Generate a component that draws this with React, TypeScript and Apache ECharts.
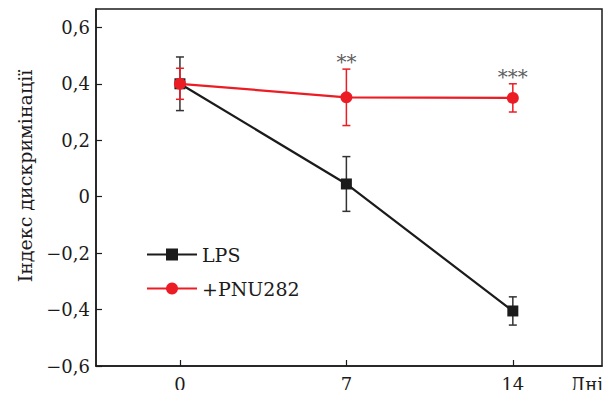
import React, { useEffect, useRef } from "react";
import * as echarts from "echarts";

const days = [0, 7, 14];
const lpsMean = [0.4, 0.045, -0.405];
const lpsErr = [0.095, 0.097, 0.05];
const pnuMean = [0.4, 0.352, 0.35];
const pnuErr = [0.055, 0.1, 0.05];
const pnuStars = ["", "**", "***"];
const yTicks = [-0.6, -0.4, -0.2, 0, 0.2, 0.4, 0.6];
const xTicks = [0, 7, 14];

const FONT = "DejaVu Serif";
const BLACK = "#1b1b1b";
const RED = "#ec1c24";

function errData(mean: number[], err: number[]) {
  return days.map((d, i) => [d, mean[i] - err[i], mean[i] + err[i]]);
}

function errSeries(mean: number[], err: number[], color: string, z: number) {
  return {
    type: "custom",
    z,
    silent: true,
    data: errData(mean, err),
    renderItem: (params: any, api: any) => {
      const lo = api.coord([api.value(0), api.value(1)]);
      const hi = api.coord([api.value(0), api.value(2)]);
      const w = 4;
      const style = { stroke: color, lineWidth: 1.5 };
      return {
        type: "group",
        children: [
          { type: "line", shape: { x1: lo[0], y1: lo[1], x2: hi[0], y2: hi[1] }, style },
          { type: "line", shape: { x1: lo[0] - w, y1: lo[1], x2: lo[0] + w, y2: lo[1] }, style },
          { type: "line", shape: { x1: hi[0] - w, y1: hi[1], x2: hi[0] + w, y2: hi[1] }, style },
        ],
      };
    },
  };
}

export default function App() {
  const ref = useRef<HTMLDivElement>(null);
  useEffect(() => {
    if (!ref.current) return;
    const chart = echarts.init(ref.current, null, { renderer: "svg" });
    const fmt = (v: number) => String(Math.round(v * 10) / 10).replace(".", ",").replace("-", "\u2212");
    chart.setOption({
      animation: false,
      textStyle: { fontFamily: FONT },
      grid: {
        left: 96,
        top: 9,
        right: 10,
        bottom: 32,
        show: true,
        borderColor: BLACK,
        borderWidth: 1.5,
        backgroundColor: "transparent",
      },
      legend: {
        left: 141,
        top: 240,
        orient: "vertical",
        itemWidth: 50,
        itemHeight: 15,
        itemGap: 15,
        textStyle: { fontFamily: FONT, fontSize: 19, color: BLACK, padding: [0, 0, 0, 0] },
        data: ["LPS", "+PNU282"],
      },
      xAxis: {
        type: "value",
        min: -3.53,
        max: 17.75,
        splitLine: { show: false },
        axisLine: { onZero: false, lineStyle: { color: BLACK, width: 1.5 } },
        axisTick: { inside: true, length: 6, lineStyle: { color: BLACK, width: 1.2 }, customValues: xTicks },
        axisLabel: { customValues: xTicks, fontFamily: FONT, fontSize: 18, color: BLACK, margin: 9 },
      },
      yAxis: {
        type: "value",
        min: -0.6,
        max: 0.665,
        splitLine: { show: false },
        axisLine: { onZero: false, lineStyle: { color: BLACK, width: 1.5 } },
        axisTick: { inside: true, length: 6, lineStyle: { color: BLACK, width: 1.2 }, customValues: yTicks },
        axisLabel: {
          customValues: yTicks,
          fontFamily: FONT,
          fontSize: 18,
          color: BLACK,
          margin: 6,
          formatter: fmt,
        },
      },
      graphic: [
        {
          type: "text",
          x: 25,
          y: 176,
          rotation: Math.PI / 2,
          style: {
            text: "Індекс дискримінації",
            font: `19px "${FONT}"`,
            fill: BLACK,
            align: "center",
            verticalAlign: "middle",
          },
        },
        {
          type: "text",
          x: 603,
          y: 384,
          style: {
            text: "Дні",
            font: `18px "${FONT}"`,
            fill: BLACK,
            align: "right",
            verticalAlign: "middle",
          },
        },
      ],
      series: [
        errSeries(lpsMean, lpsErr, "#333333", 2),
        {
          name: "LPS",
          type: "line",
          z: 3,
          data: days.map((d, i) => [d, lpsMean[i]]),
          symbol: "rect",
          symbolSize: 11,
          lineStyle: { color: BLACK, width: 2.2 },
          itemStyle: { color: BLACK },
        },
        errSeries(pnuMean, pnuErr, RED, 4),
        {
          name: "+PNU282",
          type: "line",
          z: 5,
          data: days.map((d, i) => [d, pnuMean[i]]),
          symbol: "circle",
          symbolSize: 12,
          lineStyle: { color: RED, width: 2.2 },
          itemStyle: { color: RED },
        },
        {
          type: "scatter",
          z: 6,
          silent: true,
          symbolSize: 0,
          data: days.map((d, i) => [d, pnuMean[i] + pnuErr[i]]),
          label: {
            show: true,
            position: "top",
            distance: 0,
            offset: [0, 3],
            fontFamily: FONT,
            fontSize: 20,
            color: "#333333",
            formatter: (p: any) => pnuStars[p.dataIndex],
          },
        },
      ],
    });
    return () => chart.dispose();
  }, []);
  return <div ref={ref} style={{ width: 612, height: 398, margin: -8 }} />;
}
